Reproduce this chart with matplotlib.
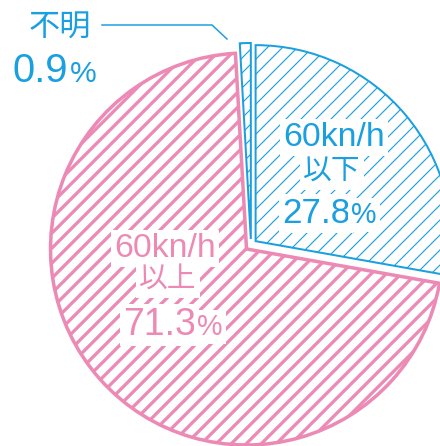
import matplotlib
matplotlib.use("Agg")
import matplotlib.pyplot as plt

# ---- data ----
categories = ["60kn/h以下", "60kn/h以上", "不明"]
values = [27.8, 71.3, 0.9]
speed_labels = ["60kn/h", "60kn/h"]
range_labels = ["以下", "以上"]
pct_labels = ["27.8", "71.3", "0.9"]
unknown_label = "不明"

# ---- style ----
BLUE = "#1a9fe0"
PINK = "#ec8ab5"
W, H, DPI = 440, 446, 90
CX, CY, R = 251, 245, 196

fig = plt.figure(figsize=(W / DPI, H / DPI), dpi=DPI)
ax = fig.add_axes([0, 0, 1, 1])

def Y(y):
    return H - y

wedges, _ = ax.pie(values, startangle=90, counterclock=False,
                   center=(CX, Y(CY)), radius=R, explode=[6, 6, 6])


def with_hatch_lw(artist, lw):
    if hasattr(artist, "set_hatch_linewidth"):
        artist.set_hatch_linewidth(lw)
    orig = artist.draw

    def draw(renderer, _orig=orig):
        with plt.rc_context({"hatch.linewidth": lw}):
            _orig(renderer)
    artist.draw = draw


styles = [(BLUE, 1.6, 0.9), (PINK, 2.8, 2.6), (BLUE, 1.6, 0.9)]
for w, (col, lw, hlw) in zip(wedges, styles):
    w.set_facecolor("white")
    w.set_hatch("//")
    w.set_edgecolor(col)
    w.set_linewidth(lw)
    w.set_joinstyle("miter")
    with_hatch_lw(w, hlw)

ax.set_xlim(0, W)
ax.set_ylim(0, H)
ax.set_aspect("equal")
ax.axis("off")

NUM_FONT = ["Liberation Sans", "DejaVu Sans"]
CJK_FONT = ["Noto Sans CJK JP", "DejaVu Sans"]
box = dict(facecolor="white", edgecolor="none", pad=2.5)

def label_block(col, cx_speed, y_speed, cx_cjk, y_cjk, num_right, y_num,
                speed, rng, pct, numsize, pctsize):
    ax.text(cx_speed, Y(y_speed), speed, color=col, fontsize=27,
            family=NUM_FONT, ha="center", va="baseline", bbox=box, zorder=5)
    ax.text(cx_cjk, Y(y_cjk), rng, color=col, fontsize=23,
            family=CJK_FONT, ha="center", va="baseline", bbox=box, zorder=5)
    ax.text(num_right, Y(y_num), pct, color=col, fontsize=numsize,
            family=NUM_FONT, ha="right", va="baseline", bbox=box, zorder=5)
    ax.text(num_right + 1, Y(y_num), "%", color=col, fontsize=pctsize,
            family=NUM_FONT, ha="left", va="baseline", bbox=box, zorder=5)

label_block(BLUE, 334, 146, 332, 180, 350, 223,
            speed_labels[0], range_labels[0], pct_labels[0], 28, 23)
label_block(PINK, 165, 257, 168, 288, 196, 335,
            speed_labels[1], range_labels[1], pct_labels[1], 30, 23)

# unknown label + leader
ax.text(60, Y(37), unknown_label, color=BLUE, fontsize=25, family=CJK_FONT,
        ha="center", va="baseline")
ax.text(68, Y(82), pct_labels[2], color=BLUE, fontsize=32, family=NUM_FONT,
        ha="right", va="baseline")
ax.text(70, Y(82), "%", color=BLUE, fontsize=24, family=NUM_FONT,
        ha="left", va="baseline")
ax.plot([102, 212, 227], [Y(25), Y(25), Y(39)], color=BLUE, lw=1.2,
        solid_joinstyle="miter")

fig.savefig("out.png", dpi=DPI)
